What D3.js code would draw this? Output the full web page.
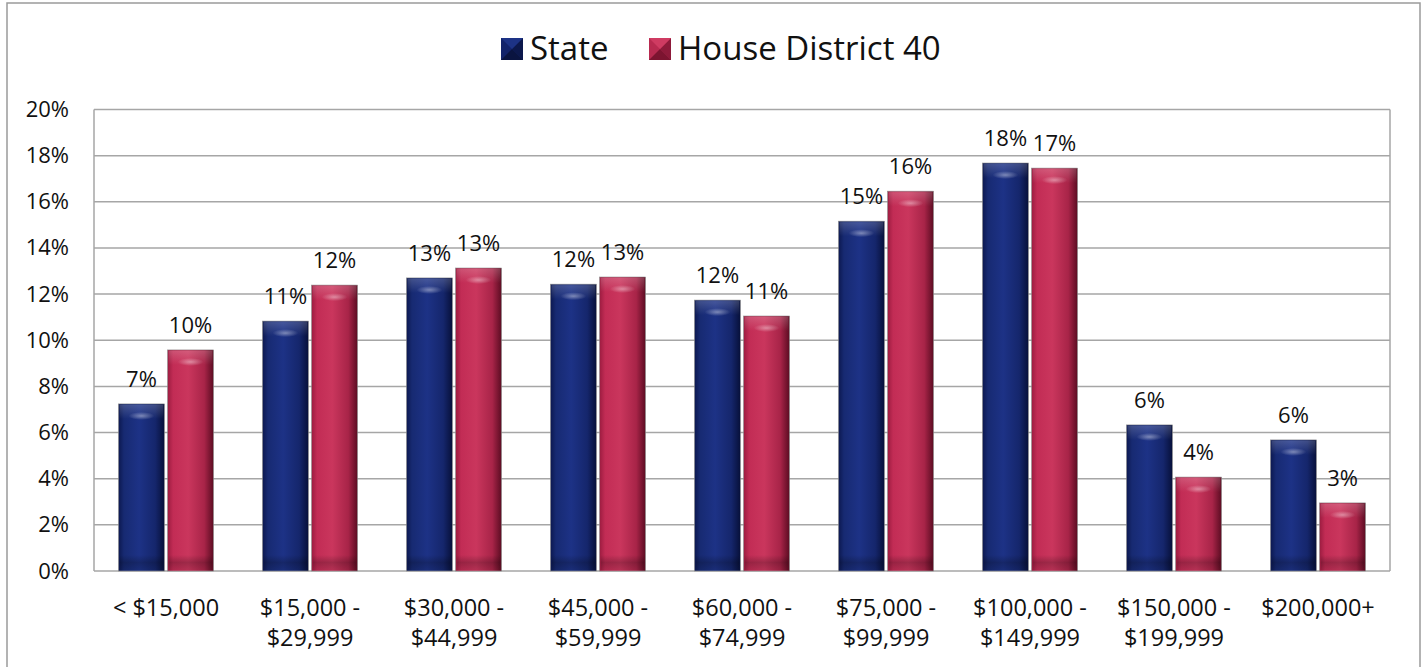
<!DOCTYPE html>
<html>
<head>
<meta charset="utf-8">
<script src="https://cdn.jsdelivr.net/npm/d3@7"></script>
<style>
  html, body { margin: 0; padding: 0; background: #fff; }
  svg { display: block; font-family: "Open Sans", "Noto Sans", sans-serif; }
</style>
</head>
<body>
<svg id="chart" width="1424" height="667"></svg>
<script>
const categories = ["< $15,000", "$15,000 - $29,999", "$30,000 - $44,999", "$45,000 - $59,999",
  "$60,000 - $74,999", "$75,000 - $99,999", "$100,000 - $149,999", "$150,000 - $199,999", "$200,000+"];
const categoryLines = [["< $15,000"], ["$15,000 -", "$29,999"], ["$30,000 -", "$44,999"], ["$45,000 -", "$59,999"],
  ["$60,000 -", "$74,999"], ["$75,000 -", "$99,999"], ["$100,000 -", "$149,999"], ["$150,000 -", "$199,999"], ["$200,000+"]];
const seriesNames = ["State", "House District 40"];
const stateValues = [0.0724, 0.1083, 0.1270, 0.1243, 0.1174, 0.1516, 0.1768, 0.0633, 0.0568];
const districtValues = [0.0958, 0.1239, 0.1313, 0.1274, 0.1105, 0.1646, 0.1746, 0.0407, 0.0295];
const yTicks = [0, 0.02, 0.04, 0.06, 0.08, 0.10, 0.12, 0.14, 0.16, 0.18, 0.20];

const svg = d3.select("#chart");
const plot = {left: 94, right: 1390, top: 109.5, bottom: 571};

// outer frame
svg.append("rect").attr("x", 7).attr("y", 3).attr("width", 1413).attr("height", 700)
  .attr("fill", "none").attr("stroke", "#9a9a9a").attr("stroke-width", 1.5);

const defs = svg.append("defs");
function hGrad(id, stops) {
  const g = defs.append("linearGradient").attr("id", id).attr("x1", 0).attr("x2", 1).attr("y1", 0).attr("y2", 0);
  stops.forEach(s => g.append("stop").attr("offset", s[0]).attr("stop-color", s[1]));
}
hGrad("gState", [[0, "#0c1850"], [0.12, "#172a72"], [0.45, "#1d3286"], [0.8, "#15266c"], [1, "#07103a"]]);
hGrad("gDist", [[0, "#9c1c40"], [0.12, "#c22c55"], [0.45, "#ca365d"], [0.8, "#a82448"], [1, "#5c0c22"]]);
const rg = defs.append("radialGradient").attr("id", "hl").attr("cx", 0.5).attr("cy", 0.5).attr("r", 0.5);
rg.append("stop").attr("offset", 0).attr("stop-color", "#fff").attr("stop-opacity", 0.4);
rg.append("stop").attr("offset", 1).attr("stop-color", "#fff").attr("stop-opacity", 0);
const vg = defs.append("linearGradient").attr("id", "topbevel").attr("x1", 0).attr("x2", 0).attr("y1", 0).attr("y2", 1);
vg.append("stop").attr("offset", 0).attr("stop-color", "#fff").attr("stop-opacity", 0.18);
vg.append("stop").attr("offset", 1).attr("stop-color", "#fff").attr("stop-opacity", 0);
const bg = defs.append("linearGradient").attr("id", "botshade").attr("x1", 0).attr("x2", 0).attr("y1", 0).attr("y2", 1);
bg.append("stop").attr("offset", 0).attr("stop-color", "#000").attr("stop-opacity", 0);
bg.append("stop").attr("offset", 0.5).attr("stop-color", "#000").attr("stop-opacity", 0.22);
bg.append("stop").attr("offset", 1).attr("stop-color", "#000").attr("stop-opacity", 0.1);

const x0 = d3.scaleBand().domain(categories).range([plot.left, plot.right]).paddingInner(0).paddingOuter(0);
const x1 = d3.scaleBand().domain(seriesNames).range([24.5, x0.bandwidth() - 24.5]).paddingInner(0.065);
const y = d3.scaleLinear().domain([0, 0.20]).range([plot.bottom, plot.top]);

// gridlines
svg.append("g").selectAll("line").data(yTicks).join("line")
  .attr("x1", plot.left).attr("x2", plot.right)
  .attr("y1", d => y(d)).attr("y2", d => y(d))
  .attr("stroke", "#a6a6a6").attr("stroke-width", 1.5);
svg.append("line").attr("x1", plot.left).attr("x2", plot.left).attr("y1", plot.top).attr("y2", plot.bottom)
  .attr("stroke", "#a6a6a6").attr("stroke-width", 1.5);
svg.append("line").attr("x1", plot.right).attr("x2", plot.right).attr("y1", plot.top).attr("y2", plot.bottom)
  .attr("stroke", "#a6a6a6").attr("stroke-width", 1.5);

// y axis labels
const yAxis = d3.axisLeft(y).tickValues(yTicks).tickFormat(d3.format(".0%")).tickSize(0).tickPadding(25);
const yg = svg.append("g").attr("transform", `translate(${plot.left},0)`).call(yAxis);
yg.select(".domain").remove();
yg.selectAll("text").attr("font-size", 22).attr("fill", "#111").attr("font-family", "Open Sans");

// bars
const series = [
  {name: seriesNames[0], values: stateValues, grad: "url(#gState)"},
  {name: seriesNames[1], values: districtValues, grad: "url(#gDist)"}
];
const fmt = d3.format(".0%");
series.forEach(s => {
  const g = svg.append("g");
  const items = categories.map((c, i) => ({c, v: s.values[i]}));
  const bx = d => x0(d.c) + x1(s.name);
  const bw = x1.bandwidth();
  g.selectAll("rect.bar").data(items).join("rect").attr("class", "bar")
    .attr("x", bx).attr("y", d => y(d.v)).attr("width", bw).attr("height", d => y(0) - y(d.v))
    .attr("fill", s.grad).attr("stroke", "#8a8a8a").attr("stroke-width", 0.6);
  g.selectAll("rect.bev").data(items).join("rect").attr("class", "bev")
    .attr("x", d => bx(d) + 1).attr("y", d => y(d.v) + 1).attr("width", bw - 2).attr("height", 14)
    .attr("fill", "url(#topbevel)");
  g.selectAll("ellipse.hl").data(items).join("ellipse").attr("class", "hl")
    .attr("cx", d => bx(d) + bw / 2).attr("cy", d => y(d.v) + 12)
    .attr("rx", bw * 0.28).attr("ry", 4).attr("fill", "url(#hl)");
  g.selectAll("rect.bs").data(items).join("rect").attr("class", "bs")
    .attr("x", d => bx(d) + 1).attr("y", y(0) - 16).attr("width", bw - 2).attr("height", 15)
    .attr("fill", "url(#botshade)");
  g.selectAll("text").data(items).join("text")
    .attr("x", d => bx(d) + bw / 2).attr("y", d => y(d.v) - 17)
    .attr("text-anchor", "middle").attr("font-size", 22).attr("fill", "#111")
    .text(d => fmt(d.v));
});

// x axis labels
const xl = svg.append("g");
categories.forEach((c, i) => {
  const cx = x0(c) + x0.bandwidth() / 2;
  const t = xl.append("text").attr("x", cx).attr("y", 616)
    .attr("text-anchor", "middle").attr("font-size", 23.5).attr("fill", "#111");
  categoryLines[i].forEach((ln, j) => {
    t.append("tspan").attr("x", cx).attr("dy", j === 0 ? 0 : 30).text(ln);
  });
});

// legend
const legend = svg.append("g");
const legendItems = [
  {name: seriesNames[0], x: 501, base: "#12236a", dark: "#0a1440", light: "#1d3386"},
  {name: seriesNames[1], x: 649, base: "#b82a50", dark: "#7c1430", light: "#cf3b62"}
];
legendItems.forEach(li => {
  const s = 22, yy = 38;
  legend.append("rect").attr("x", li.x).attr("y", yy).attr("width", s).attr("height", s).attr("fill", li.base);
  legend.append("path").attr("d", `M${li.x},${yy + s} L${li.x + s / 2},${yy + s / 2} L${li.x + s},${yy + s} Z`).attr("fill", li.dark);
  legend.append("path").attr("d", `M${li.x + s},${yy} L${li.x + s / 2},${yy + s / 2} L${li.x + s},${yy + s} Z`).attr("fill", li.dark).attr("opacity", 0.7);
  legend.append("path").attr("d", `M${li.x},${yy} L${li.x + s / 2},${yy + s / 2} L${li.x + s},${yy} Z`).attr("fill", li.light);
  legend.append("text").attr("x", li.x + 29).attr("y", 60).attr("font-size", 33).attr("fill", "#111").text(li.name);
});
</script>
</body>
</html>
